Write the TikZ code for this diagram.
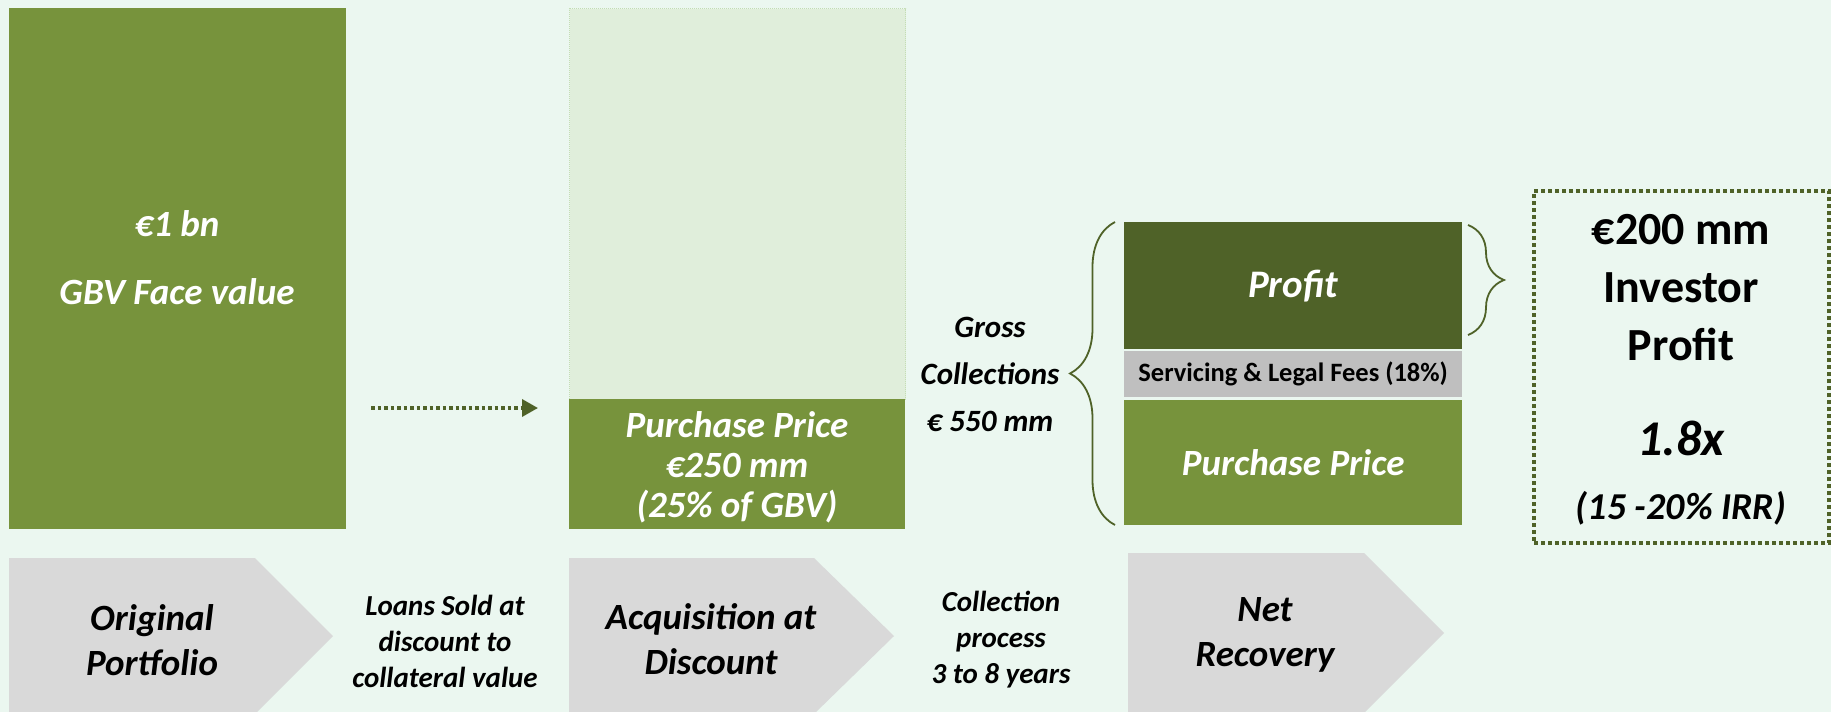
\documentclass[tikz,border=0pt]{standalone}
\usepackage{fontspec}
\setmainfont{Carlito}
\usetikzlibrary{arrows.meta,decorations.pathreplacing}

\definecolor{mint}{HTML}{EBF7F0}
\definecolor{olive}{HTML}{77933C}
\definecolor{darkolive}{HTML}{4F6228}
\definecolor{palegreen}{HTML}{E0EEDB}
\definecolor{paleedge}{HTML}{C4DDB4}
\definecolor{chevgray}{HTML}{D9D9D9}
\definecolor{feegray}{HTML}{BFBFBF}

\tikzset{
  block/.style={anchor=north west, inner sep=0pt, draw=none},
  whitetext/.style={text=white, align=center, font=\bfseries\itshape\fontsize{37}{40}\selectfont},
  blacktext/.style={text=black, align=center, font=\bfseries\itshape\fontsize{31}{47}\selectfont},
  steptext/.style={text=black, align=center, font=\bfseries\itshape\fontsize{37}{45}\selectfont},
  notetext/.style={text=black, align=center, font=\bfseries\itshape\fontsize{29}{36}\selectfont},
  bracket/.style={darkolive, line width=1.8pt, decorate},
}

\begin{document}
\begin{tikzpicture}[x=1pt, y=-1pt]
% page and background
\fill[mint] (0,0) rectangle (1831,712);
\clip (0,0) rectangle (1831,712);

% original portfolio bar
\node[block, fill=olive, minimum width=337, minimum height=521] (gbv) at (9,8) {};
\node[whitetext] (gbvval) at (177,224) {€1 bn};
\node[whitetext] (gbvtxt) at (177,292) {GBV Face value};

% bar after the discount
\node[block, fill=palegreen, draw=paleedge, densely dotted, line width=1pt,
      minimum width=336, minimum height=391] (writeoff) at (569,8) {};
\node[block, fill=olive, minimum width=336, minimum height=130] (price) at (569,399) {};
\node[whitetext] (pricetxt) at (737,467) {Purchase Price\\€250 mm\\(25\% of GBV)};

% dotted arrow between the bars
\coordinate (arrS) at (371,408);
\coordinate (arrE) at (538,408);
\draw[darkolive, line width=3.5pt, dash pattern=on 3.5pt off 3pt,
      -{Triangle[length=16pt,width=17pt]}] (arrS) -- (arrE);

% recovery stack
\node[block, fill=darkolive, minimum width=338, minimum height=127] (profit) at (1124,222) {};
\node[block, fill=feegray, minimum width=338, minimum height=46] (fees) at (1124,351) {};
\node[block, fill=olive, minimum width=338, minimum height=125] (repay) at (1124,400) {};
\node[whitetext, font=\bfseries\itshape\fontsize{39}{40}\selectfont] (profittxt) at (profit.center) {Profit};
\node[text=black, font=\bfseries\fontsize{26.5}{30}\selectfont] (feestxt) at (fees.center) {Servicing \& Legal Fees (18\%)};
\node[whitetext] (repaytxt) at (repay.center) {Purchase Price};

% gross collections and braces
\node[blacktext] (gross) at (990,374) {Gross\\Collections\\€ 550 mm};
\draw[bracket, decoration={brace, amplitude=45pt, aspect=0.5}] (1115,525) -- (1115,222);
\draw[bracket, decoration={brace, amplitude=36pt, aspect=0.5}] (1468,225) -- (1468,335);

% investor profit box
\node[block, draw=darkolive, line width=4pt, dash pattern=on 4pt off 3pt,
      minimum width=295, minimum height=352] (result) at (1532,189) {};
\node[text=black, align=center, font=\bfseries\fontsize{46}{58}\selectfont] (resulttxt) at (1681,288) {€200 mm\\Investor\\Profit};
\node[text=black, font=\bfseries\itshape\fontsize{50}{54}\selectfont] (multiple) at (1681,438) {1.8x};
\node[text=black, font=\bfseries\itshape\fontsize{38}{42}\selectfont] (irr) at (1681,508) {(15 -20\% IRR)};

% process steps along the bottom
\fill[chevgray] (9,558) -- (255,558) -- (333,636) -- (255,714) -- (9,714) -- cycle;
\fill[chevgray] (569,558) -- (814,558) -- (894,636) -- (814,714) -- (569,714) -- cycle;
\fill[chevgray] (1128,553) -- (1364,553) -- (1444,633) -- (1364,713) -- (1128,713) -- cycle;
\node[steptext] (step1) at (152,640) {Original\\Portfolio};
\node[steptext] (step2) at (711,639) {Acquisition at\\Discount};
\node[steptext] (step3) at (1265,635) {Net\\Recovery};
\node[notetext] (note1) at (445,641) {Loans Sold at\\discount to\\collateral value};
\node[notetext] (note2) at (1001,640) {Collection\\process\\3 to 8 years};
\end{tikzpicture}
\end{document}
